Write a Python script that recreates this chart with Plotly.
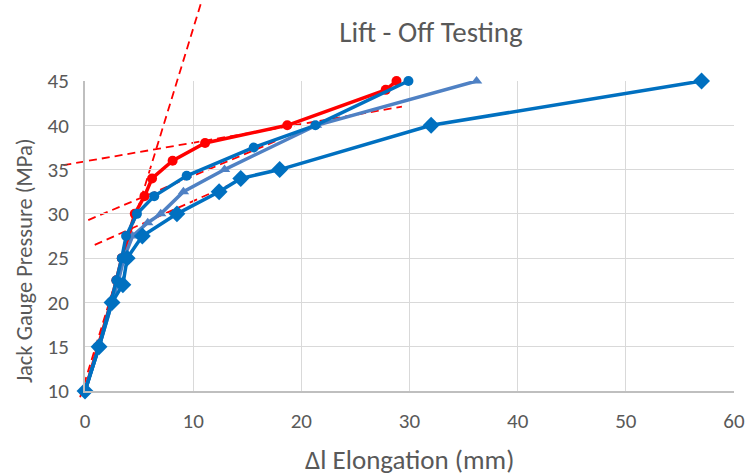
import plotly.graph_objects as go

# ---- data ----
red_x = [0, 1.2, 2.4, 2.9, 3.4, 4.0, 4.6, 5.5, 6.2, 8.1, 11.1, 18.7, 27.8, 28.8]
red_y = [10, 15, 20, 22.5, 25, 27.5, 30, 32, 34, 36, 38, 40, 44, 45]

circ_x = [0, 1.3, 2.4, 2.9, 3.4, 3.8, 4.8, 6.4, 9.4, 15.6, 21.3, 29.9]
circ_y = [10, 15, 20, 22.5, 25, 27.5, 30, 32, 34.3, 37.5, 40, 45]

tri_x = [0, 1.3, 2.5, 3.1, 3.6, 4.4, 5.8, 7.0, 9.1, 12.9, 21.4, 36.2]
tri_y = [10, 15, 20, 22.5, 25, 27.5, 29, 30, 32.5, 35, 40, 45]

dia_x = [0, 1.3, 2.5, 3.5, 3.9, 5.3, 8.5, 12.4, 14.4, 18.0, 32.0, 57.0]
dia_y = [10, 15, 20, 22, 25, 27.5, 30, 32.5, 34, 35, 40, 45]

# tangent (dashed) lines: start/end points in data units
tan_x0 = [-0.45, -2.0, 0.3, 0.9]
tan_y0 = [9.3, 35.5, 29.3, 26.5]
tan_x1 = [10.8, 29.3, 17.6, 13.6]
tan_y1 = [54.1, 42.1, 38.2, 33.4]

x_ticks = [0, 10, 20, 30, 40, 50, 60]
y_ticks = [10, 15, 20, 25, 30, 35, 40, 45]
X_RANGE = [0, 60]
Y_RANGE = [10, 45]

FONT = "Carlito, Lato, sans-serif"
GREY = "#595959"

fig = go.Figure()

fig.add_trace(go.Scatter(x=red_x, y=red_y, mode="lines+markers",
                         line=dict(color="#FF0000", width=3.5),
                         marker=dict(symbol="circle", size=10, color="#FF0000"),
                         cliponaxis=False, name="A"))
fig.add_trace(go.Scatter(x=tri_x, y=tri_y, mode="lines+markers",
                         line=dict(color="#4F81C4", width=3.5),
                         marker=dict(symbol="triangle-up", size=10, color="#4F81C4"),
                         cliponaxis=False, name="C"))
fig.add_trace(go.Scatter(x=circ_x, y=circ_y, mode="lines+markers",
                         line=dict(color="#0070C0", width=3.5),
                         marker=dict(symbol="circle", size=10, color="#0070C0"),
                         cliponaxis=False, name="B"))
fig.add_trace(go.Scatter(x=dia_x, y=dia_y, mode="lines+markers",
                         line=dict(color="#0070C0", width=3.5),
                         marker=dict(symbol="diamond", size=13, color="#0070C0"),
                         cliponaxis=False, name="D"))


def dom(v, r):
    return (v - r[0]) / (r[1] - r[0])


for xa, ya, xb, yb in zip(tan_x0, tan_y0, tan_x1, tan_y1):
    fig.add_shape(type="line", xref="x domain", yref="y domain",
                  x0=dom(xa, X_RANGE), y0=dom(ya, Y_RANGE),
                  x1=dom(xb, X_RANGE), y1=dom(yb, Y_RANGE),
                  line=dict(color="#FF0000", width=1.8, dash="8px,5px"),
                  layer="below")

fig.update_layout(
    width=746, height=476,
    margin=dict(l=85, r=12, t=81, b=85),
    paper_bgcolor="white", plot_bgcolor="rgba(0,0,0,0)",
    showlegend=False,
    font=dict(family=FONT, color=GREY, size=21),
    title=dict(text="Lift - Off Testing", xref="container", yref="container",
               x=431 / 746, y=1 - 32 / 476, xanchor="center", yanchor="middle",
               font=dict(family=FONT, size=29, color=GREY)),
)
fig.update_xaxes(range=X_RANGE, tickvals=x_ticks, showgrid=True, gridcolor="#D9D9D9",
                 gridwidth=1.3, zeroline=False, showline=True, linecolor="#BFBFBF",
                 linewidth=2, ticks="", ticklabelstandoff=10, automargin=False,
                 tickfont=dict(family=FONT, size=21, color=GREY))
fig.update_yaxes(range=Y_RANGE, tickvals=y_ticks, showgrid=True, gridcolor="#D9D9D9",
                 gridwidth=1.3, zeroline=False, showline=True, linecolor="#BFBFBF",
                 linewidth=2, ticks="", ticklabelstandoff=10, automargin=False,
                 tickfont=dict(family=FONT, size=21, color=GREY))

fig.add_annotation(text="Δl Elongation (mm)", xref="paper", yref="paper",
                   x=0.5, y=-0.222, xanchor="center", yanchor="middle",
                   showarrow=False, font=dict(family=FONT, size=27, color=GREY))
fig.add_annotation(text="Jack Gauge Pressure (MPa)", xref="paper", yref="paper",
                   x=-0.092, y=0.42, xanchor="center", yanchor="middle", textangle=-90,
                   showarrow=False, font=dict(family=FONT, size=22.5, color=GREY))

fig.write_html("out.html", config={"displayModeBar": False},
               post_script="document.body.style.margin='0';document.body.style.padding='0';")
